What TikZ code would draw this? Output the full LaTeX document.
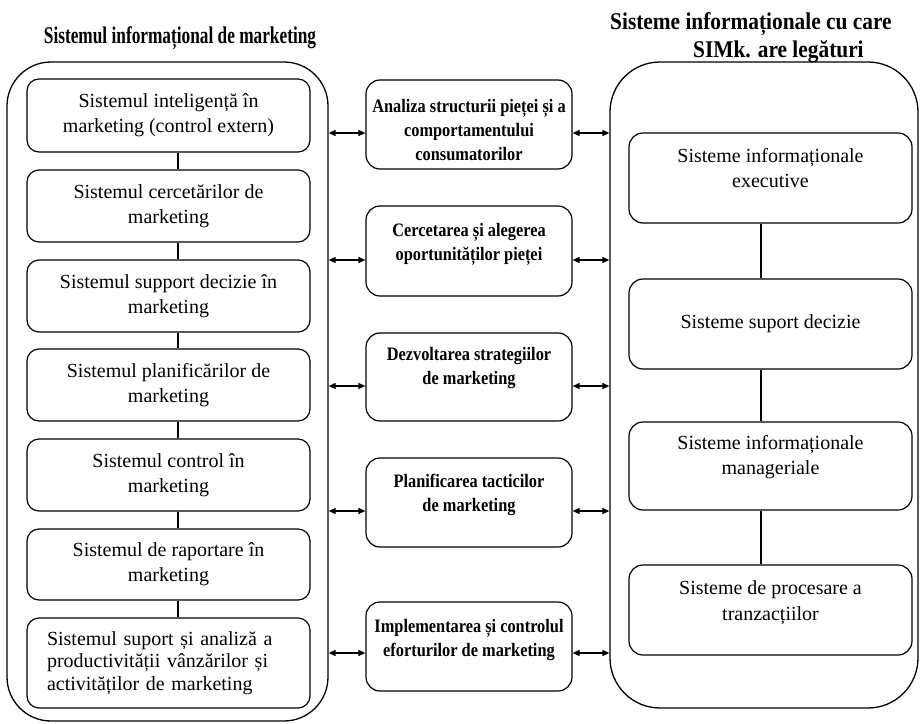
\documentclass[tikz,border=0pt]{standalone}
\usepackage{fontspec}
\setmainfont{Liberation Serif}
\newfontfamily\midfont[FakeStretch=0.86]{Liberation Serif}
\newfontfamily\lefttitlefont[FakeStretch=0.72]{Liberation Serif}
\newfontfamily\righttitlefont[FakeStretch=0.89]{Liberation Serif}
\usetikzlibrary{arrows.meta}

% text hung from the top edge of a box: height, top gap, width, lines
\newcommand\toptext[4]{\parbox[c][#1][t]{#3}{\centering\vspace*{#2}#4\par}}

\begin{document}
\begin{tikzpicture}[x=1pt,y=-1pt,
  container/.style={draw, line width=1.3pt, rounded corners=44pt, inner sep=0pt},
  leftbox/.style={draw, line width=1.2pt, rounded corners=12pt, inner sep=0pt,
    minimum width=283pt, align=center, font=\fontsize{20}{25}\selectfont},
  midbox/.style={draw, line width=1.2pt, rounded corners=14pt, inner sep=0pt,
    minimum width=206pt, font=\midfont\bfseries\fontsize{19}{24}\selectfont},
  rightbox/.style={draw, line width=1.2pt, rounded corners=14pt, inner sep=0pt,
    minimum width=283pt, font=\fontsize{20}{25.5}\selectfont},
  link/.style={line width=1.2pt},
  exchange/.style={line width=1.2pt,
    arrows={Triangle[length=7pt,width=6pt]-Triangle[length=7pt,width=6pt]}}
]
\useasboundingbox (0,0) rectangle (921,723);

% titles
\node[font=\lefttitlefont\bfseries\fontsize{24}{26}\selectfont] (ltitle) at (180,38)
  {Sistemul informațional de marketing};
\node[font=\righttitlefont\bfseries\fontsize{24}{28}\selectfont, align=left,
  anchor=north west, inner sep=0pt] (rtitle) at (610,12)
  {Sisteme informaționale cu care\\\hspace*{83pt}SIMk. are legături};

% outer containers
\node[container, minimum width=321pt, minimum height=659pt] (lc) at (167.5,391.5) {};
\node[container, minimum width=308pt, minimum height=646pt, rounded corners=50pt] (rc) at (764,385) {};

% marketing information subsystems
\node[leftbox, minimum height=73pt] (l1) at (168.5,115.5)
  {Sistemul inteligență în\\marketing (control extern)};
\node[leftbox, minimum height=72pt] (l2) at (168.5,206)
  {Sistemul cercetărilor de\\marketing};
\node[leftbox, minimum height=72pt] (l3) at (168.5,296)
  {Sistemul support decizie în\\marketing};
\node[leftbox, minimum height=72pt] (l4) at (168.5,385)
  {Sistemul planificărilor de\\marketing};
\node[leftbox, minimum height=72pt] (l5) at (168.5,475)
  {Sistemul control în\\marketing};
\node[leftbox, minimum height=71pt] (l6) at (168.5,564.5)
  {Sistemul de raportare în\\marketing};
\node[leftbox, minimum height=90pt, text width=243pt, align=left,
  font=\fontsize{20}{22.5}\selectfont] (l7) at (168.5,663)
  {Sistemul suport și analiză a\\productivității vânzărilor și\\activităților de marketing};

\foreach \a/\b in {l1/l2,l2/l3,l3/l4,l4/l5,l5/l6,l6/l7}
  \draw[link] ([xshift=9.5pt]\a.south) -- ([xshift=9.5pt]\b.north);

% marketing activities
\node[midbox] (m1) at (469,124.5)
  {\toptext{89pt}{19pt}{204pt}{Analiza structurii pieței și a\\comportamentului\\consumatorilor}};
\node[midbox] (m2) at (469,251)
  {\toptext{90pt}{17pt}{204pt}{Cercetarea și alegerea\\oportunităților pieței}};
\node[midbox] (m3) at (469,377)
  {\toptext{88pt}{14pt}{204pt}{Dezvoltarea strategiilor\\de marketing}};
\node[midbox] (m4) at (469,502.5)
  {\toptext{89pt}{16pt}{204pt}{Planificarea tacticilor\\de marketing}};
\node[midbox] (m5) at (469,646.5)
  {\toptext{89pt}{17pt}{204pt}{Implementarea și controlul\\eforturilor de marketing}};

% related information systems
\node[rightbox] (r1) at (770.5,178)
  {\toptext{90pt}{15pt}{280pt}{Sisteme informaționale\\executive}};
\node[rightbox, minimum height=90pt] (r2) at (770.5,324)
  {Sisteme suport decizie};
\node[rightbox] (r3) at (770.5,466)
  {\toptext{88pt}{13pt}{280pt}{Sisteme informaționale\\manageriale}};
\node[rightbox] (r4) at (770.5,610)
  {\toptext{90pt}{16pt}{280pt}{Sisteme de procesare a\\tranzacțiilor}};

\foreach \a/\b in {r1/r2,r2/r3,r3/r4}
  \draw[link] ([xshift=-9.5pt]\a.south) -- ([xshift=-9.5pt]\b.north);

% two-way exchanges
\foreach \m/\d in {m1/8.5,m2/9,m3/9,m4/8.5,m5/6.5}{
  \draw[exchange] ([yshift=-\d pt]\m.west -| lc.east) -- ([yshift=-\d pt]\m.west);
  \draw[exchange] ([yshift=-\d pt]\m.east) -- ([yshift=-\d pt]\m.east -| rc.west);
}
\end{tikzpicture}
\end{document}
